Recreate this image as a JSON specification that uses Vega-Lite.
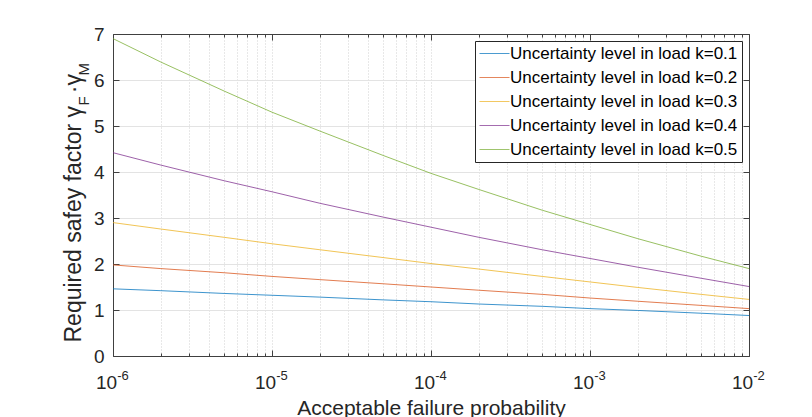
{
  "$schema": "https://vega.github.io/schema/vega-lite/v6.json",
  "width": 636,
  "height": 322,
  "autosize": "none",
  "padding": {"left": 113, "top": 34, "right": 63, "bottom": 61},
  "background": "white",
  "config": {
    "font": "Liberation Sans",
    "view": {"stroke": null},
    "axis": {"labelColor": "#262626", "titleColor": "#262626", "labelFont": "Liberation Sans", "titleFont": "Liberation Sans", "titleFontWeight": "normal", "domainColor": "#404040", "tickColor": "#404040"}
  },
  "data": {"values": [
    {"p": 1e-6, "s": "Uncertainty level in load k=0.1", "v": 1.46},
    {"p": 2e-6, "s": "Uncertainty level in load k=0.1", "v": 1.42},
    {"p": 5e-6, "s": "Uncertainty level in load k=0.1", "v": 1.36},
    {"p": 1e-5, "s": "Uncertainty level in load k=0.1", "v": 1.32},
    {"p": 2e-5, "s": "Uncertainty level in load k=0.1", "v": 1.28},
    {"p": 5e-5, "s": "Uncertainty level in load k=0.1", "v": 1.22},
    {"p": 1e-4, "s": "Uncertainty level in load k=0.1", "v": 1.18},
    {"p": 2e-4, "s": "Uncertainty level in load k=0.1", "v": 1.13},
    {"p": 5e-4, "s": "Uncertainty level in load k=0.1", "v": 1.08},
    {"p": 1e-3, "s": "Uncertainty level in load k=0.1", "v": 1.03},
    {"p": 2e-3, "s": "Uncertainty level in load k=0.1", "v": 0.99},
    {"p": 5e-3, "s": "Uncertainty level in load k=0.1", "v": 0.93},
    {"p": 1e-2, "s": "Uncertainty level in load k=0.1", "v": 0.88},
    {"p": 1e-6, "s": "Uncertainty level in load k=0.2", "v": 1.98},
    {"p": 2e-6, "s": "Uncertainty level in load k=0.2", "v": 1.90},
    {"p": 5e-6, "s": "Uncertainty level in load k=0.2", "v": 1.81},
    {"p": 1e-5, "s": "Uncertainty level in load k=0.2", "v": 1.73},
    {"p": 2e-5, "s": "Uncertainty level in load k=0.2", "v": 1.66},
    {"p": 5e-5, "s": "Uncertainty level in load k=0.2", "v": 1.57},
    {"p": 1e-4, "s": "Uncertainty level in load k=0.2", "v": 1.50},
    {"p": 2e-4, "s": "Uncertainty level in load k=0.2", "v": 1.43},
    {"p": 5e-4, "s": "Uncertainty level in load k=0.2", "v": 1.34},
    {"p": 1e-3, "s": "Uncertainty level in load k=0.2", "v": 1.26},
    {"p": 2e-3, "s": "Uncertainty level in load k=0.2", "v": 1.19},
    {"p": 5e-3, "s": "Uncertainty level in load k=0.2", "v": 1.10},
    {"p": 1e-2, "s": "Uncertainty level in load k=0.2", "v": 1.03},
    {"p": 1e-6, "s": "Uncertainty level in load k=0.3", "v": 2.90},
    {"p": 2e-6, "s": "Uncertainty level in load k=0.3", "v": 2.76},
    {"p": 5e-6, "s": "Uncertainty level in load k=0.3", "v": 2.58},
    {"p": 1e-5, "s": "Uncertainty level in load k=0.3", "v": 2.44},
    {"p": 2e-5, "s": "Uncertainty level in load k=0.3", "v": 2.31},
    {"p": 5e-5, "s": "Uncertainty level in load k=0.3", "v": 2.14},
    {"p": 1e-4, "s": "Uncertainty level in load k=0.3", "v": 2.01},
    {"p": 2e-4, "s": "Uncertainty level in load k=0.3", "v": 1.89},
    {"p": 5e-4, "s": "Uncertainty level in load k=0.3", "v": 1.73},
    {"p": 1e-3, "s": "Uncertainty level in load k=0.3", "v": 1.61},
    {"p": 2e-3, "s": "Uncertainty level in load k=0.3", "v": 1.49},
    {"p": 5e-3, "s": "Uncertainty level in load k=0.3", "v": 1.34},
    {"p": 1e-2, "s": "Uncertainty level in load k=0.3", "v": 1.23},
    {"p": 1e-6, "s": "Uncertainty level in load k=0.4", "v": 4.42},
    {"p": 2e-6, "s": "Uncertainty level in load k=0.4", "v": 4.15},
    {"p": 5e-6, "s": "Uncertainty level in load k=0.4", "v": 3.81},
    {"p": 1e-5, "s": "Uncertainty level in load k=0.4", "v": 3.57},
    {"p": 2e-5, "s": "Uncertainty level in load k=0.4", "v": 3.32},
    {"p": 5e-5, "s": "Uncertainty level in load k=0.4", "v": 3.02},
    {"p": 1e-4, "s": "Uncertainty level in load k=0.4", "v": 2.80},
    {"p": 2e-4, "s": "Uncertainty level in load k=0.4", "v": 2.58},
    {"p": 5e-4, "s": "Uncertainty level in load k=0.4", "v": 2.31},
    {"p": 1e-3, "s": "Uncertainty level in load k=0.4", "v": 2.12},
    {"p": 2e-3, "s": "Uncertainty level in load k=0.4", "v": 1.93},
    {"p": 5e-3, "s": "Uncertainty level in load k=0.4", "v": 1.69},
    {"p": 1e-2, "s": "Uncertainty level in load k=0.4", "v": 1.51},
    {"p": 1e-6, "s": "Uncertainty level in load k=0.5", "v": 6.90},
    {"p": 2e-6, "s": "Uncertainty level in load k=0.5", "v": 6.39},
    {"p": 5e-6, "s": "Uncertainty level in load k=0.5", "v": 5.76},
    {"p": 1e-5, "s": "Uncertainty level in load k=0.5", "v": 5.30},
    {"p": 2e-5, "s": "Uncertainty level in load k=0.5", "v": 4.89},
    {"p": 5e-5, "s": "Uncertainty level in load k=0.5", "v": 4.36},
    {"p": 1e-4, "s": "Uncertainty level in load k=0.5", "v": 3.97},
    {"p": 2e-4, "s": "Uncertainty level in load k=0.5", "v": 3.62},
    {"p": 5e-4, "s": "Uncertainty level in load k=0.5", "v": 3.17},
    {"p": 1e-3, "s": "Uncertainty level in load k=0.5", "v": 2.86},
    {"p": 2e-3, "s": "Uncertainty level in load k=0.5", "v": 2.55},
    {"p": 5e-3, "s": "Uncertainty level in load k=0.5", "v": 2.17},
    {"p": 1e-2, "s": "Uncertainty level in load k=0.5", "v": 1.90}
  ]},
  "layer": [
    {
      "mark": {"type": "line", "strokeWidth": 0.9, "opacity": 0.85, "clip": true},
      "encoding": {
        "x": {
          "field": "p", "type": "quantitative",
          "scale": {"type": "log", "domain": [1e-6, 1e-2], "nice": false},
          "axis": {
            "orient": "bottom",
            "values": [1e-6, 2e-6, 3e-6, 4e-6, 5e-6, 6e-6, 7e-6, 8e-6, 9e-6, 1e-5, 2e-5, 3e-5, 4e-5, 5e-5, 6e-5, 7e-5, 8e-5, 9e-5, 1e-4, 2e-4, 3e-4, 4e-4, 5e-4, 6e-4, 7e-4, 8e-4, 9e-4, 1e-3, 2e-3, 3e-3, 4e-3, 5e-3, 6e-3, 7e-3, 8e-3, 9e-3, 1e-2],
            "labelExpr": "abs(log(datum.value)/LN10 - round(log(datum.value)/LN10)) < 0.001 ? '10' : ''",
            "labelFontSize": 19,
            "labelPadding": 38,
            "labelOffset": -7,
            "labelBaseline": "alphabetic",
            "labelFlush": false,
            "labelOverlap": false,
            "tickSize": {"condition": {"test": "abs(log(datum.value)/LN10 - round(log(datum.value)/LN10)) < 0.001", "value": -6}, "value": -3},
            "grid": true,
            "gridColor": "#d0d0d0",
            "gridDash": [1, 2],
            "gridWidth": 1,
            "title": "Acceptable failure probability",
            "titleFontSize": 21,
            "titleBaseline": "alphabetic",
            "titleY": 58
          }
        },
        "y": {
          "field": "v", "type": "quantitative",
          "scale": {"domain": [0, 7], "nice": false},
          "axis": {
            "orient": "left",
            "values": [0, 1, 2, 3, 4, 5, 6, 7],
            "labelFontSize": 19,
            "labelPadding": 15,
            "labelFlush": false,
            "tickSize": -6,
            "grid": true,
            "gridColor": "#e3e3e3",
            "title": "Required safey factor γ\u00a0\u00a0·γ\u00a0\u00a0",
            "titleFontSize": 23,
            "titleAlign": "left",
            "titleBaseline": "alphabetic",
            "titleAngle": -90,
            "titleX": -33,
            "titleY": 308
          }
        },
        "color": {
          "field": "s", "type": "nominal",
          "scale": {"range": ["#0072BD", "#D95319", "#EDB120", "#7E2F8E", "#77AC30"]},
          "legend": {
            "title": null,
            "orient": "top-right",
            "offset": 7,
            "padding": 4,
            "strokeColor": "#262626",
            "fillColor": "white",
            "symbolType": "stroke",
            "symbolSize": 900,
            "symbolStrokeWidth": 1,
            "symbolOpacity": 0.7,
            "clipHeight": 17,
            "labelFontSize": 17,
            "labelFont": "Liberation Sans",
            "labelColor": "#000000",
            "labelOffset": 0,
            "rowPadding": 6,
            "labelLimit": 400
          }
        }
      }
    },
    {
      "mark": {"type": "line", "opacity": 0},
      "encoding": {
        "x": {
          "field": "p", "type": "quantitative",
          "axis": {
            "orient": "top",
            "values": [1e-6, 2e-6, 3e-6, 4e-6, 5e-6, 6e-6, 7e-6, 8e-6, 9e-6, 1e-5, 2e-5, 3e-5, 4e-5, 5e-5, 6e-5, 7e-5, 8e-5, 9e-5, 1e-4, 2e-4, 3e-4, 4e-4, 5e-4, 6e-4, 7e-4, 8e-4, 9e-4, 1e-3, 2e-3, 3e-3, 4e-3, 5e-3, 6e-3, 7e-3, 8e-3, 9e-3, 1e-2],
            "labels": false,
            "grid": false,
            "title": null,
            "tickSize": {"condition": {"test": "abs(log(datum.value)/LN10 - round(log(datum.value)/LN10)) < 0.001", "value": -6}, "value": -3}
          }
        },
        "y": {
          "field": "v", "type": "quantitative",
          "axis": {"orient": "right", "values": [0, 1, 2, 3, 4, 5, 6, 7], "labels": false, "grid": false, "title": null, "tickSize": -6}
        }
      }
    },
    {
      "mark": {"type": "line", "opacity": 0},
      "encoding": {
        "x": {
          "field": "p", "type": "quantitative",
          "axis": {
            "orient": "bottom",
            "values": [1e-6, 1e-5, 1e-4, 1e-3, 1e-2],
            "labelExpr": "'-' + format(-round(log(datum.value)/LN10), 'd')",
            "labelFontSize": 13,
            "labelPadding": 23,
            "labelOffset": 9.5,
            "labelBaseline": "alphabetic",
            "labelFlush": false,
            "labelOverlap": false,
            "ticks": false,
            "domain": false,
            "grid": false,
            "title": null
          }
        },
        "y": {
          "field": "v", "type": "quantitative",
          "axis": {
            "orient": "left", "labels": false, "ticks": false, "domain": false, "grid": false,
            "title": "F\u00a0\u00a0\u00a0\u00a0\u00a0M",
            "titleFontSize": 15,
            "titleAlign": "left",
            "titleBaseline": "alphabetic",
            "titleAngle": -90,
            "titleX": -25,
            "titleY": 71
          }
        }
      }
    }
  ],
  "resolve": {"axis": {"x": "independent", "y": "independent"}}
}
